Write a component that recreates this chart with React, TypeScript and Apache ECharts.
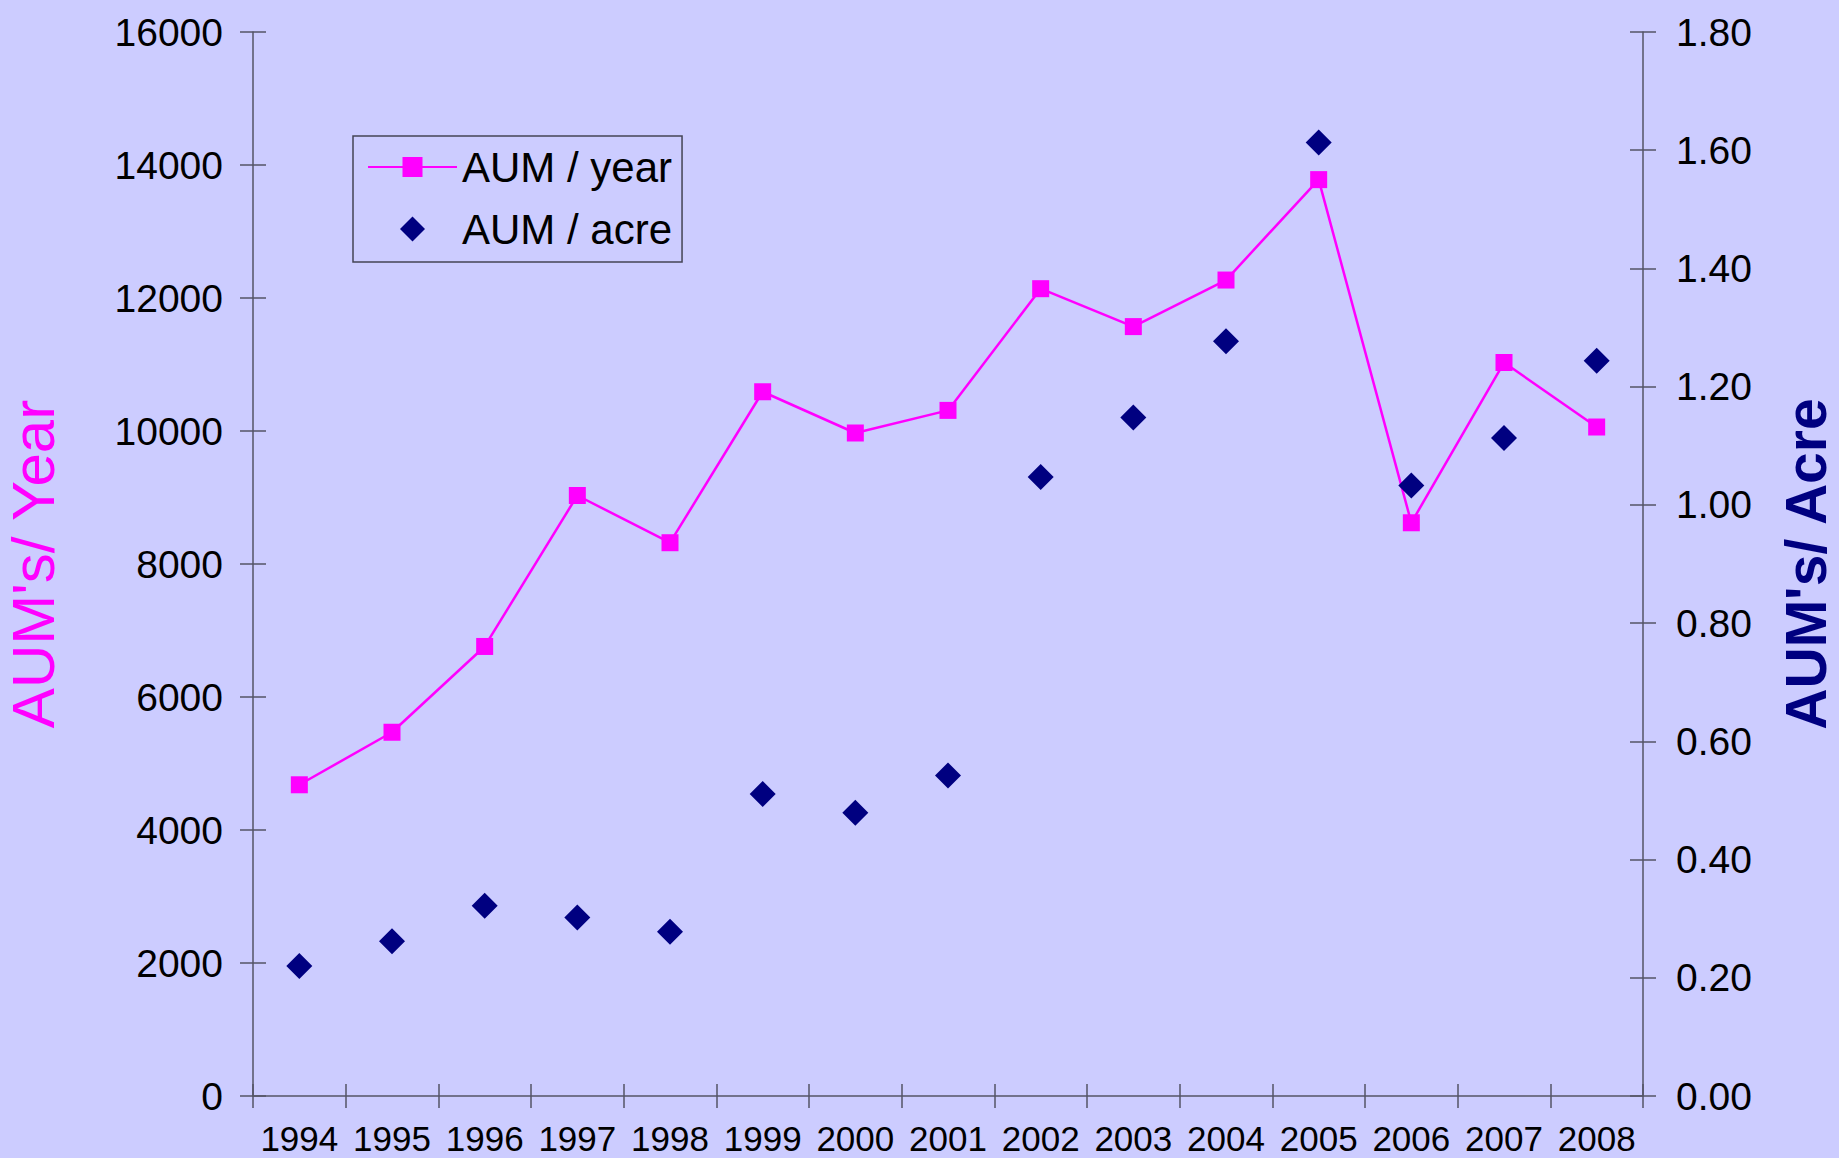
import React, { useEffect, useRef } from "react";
import * as echarts from "echarts";

const years = ["1994", "1995", "1996", "1997", "1998", "1999", "2000", "2001", "2002", "2003", "2004", "2005", "2006", "2007", "2008"];
const aumPerYear = [4680, 5470, 6760, 9030, 8320, 10590, 9970, 10310, 12140, 11570, 12270, 13780, 8620, 11030, 10060];
const aumPerAcre = [0.22, 0.262, 0.322, 0.302, 0.278, 0.511, 0.479, 0.542, 1.047, 1.148, 1.277, 1.613, 1.033, 1.113, 1.244];

const leftMax = 16000;
const leftInterval = 2000;
const rightMax = 1.8;
const rightInterval = 0.2;

const AXIS_COLOR = "#555566";
const FONT = "Liberation Sans, Arial, sans-serif";

export default function App() {
  const ref = useRef<HTMLDivElement>(null);
  useEffect(() => {
    if (!ref.current) return;
    const chart = echarts.init(ref.current, undefined, { renderer: "svg" });
    const tickLine = { color: AXIS_COLOR, width: 1.5 };
    chart.setOption({
      animation: false,
      backgroundColor: "#CCCCFF",
      textStyle: { fontFamily: FONT },
      grid: { left: 253, right: 196, top: 32, bottom: 62, containLabel: false, outerBoundsMode: "none" },
      legend: {
        orient: "vertical",
        left: 353,
        top: 136,
        padding: [8, 10, 10, 14],
        borderColor: "#444455",
        borderWidth: 1.5,
        backgroundColor: "transparent",
        itemWidth: 89,
        itemHeight: 25,
        itemGap: 16,
        itemTextGap: 12,
        symbolKeepAspect: true,
        textStyle: { fontSize: 42, color: "#000", fontFamily: FONT, lineHeight: 46 },
        data: [
          { name: "AUM / year" },
          { name: "AUM / acre", icon: "path://M0,-1 L1,0 L0,1 L-1,0 Z", itemStyle: { color: "#000080", opacity: 1 } },
        ],
      },
      xAxis: [
        {
          type: "category",
          position: "bottom",
          data: years,
          boundaryGap: true,
          axisLine: { show: true, lineStyle: { color: AXIS_COLOR, width: 1.5 } },
          axisTick: { show: true, inside: false, length: 12, lineStyle: tickLine },
          axisLabel: { fontSize: 35, color: "#000", margin: 25, fontFamily: FONT, interval: 0 },
          splitLine: { show: false },
        },
        {
          type: "category",
          position: "bottom",
          data: years,
          boundaryGap: true,
          axisLine: { show: false },
          axisTick: { show: true, inside: true, length: 12, lineStyle: tickLine },
          axisLabel: { show: false },
          splitLine: { show: false },
        },
      ],
      yAxis: [
        {
          type: "value",
          position: "left",
          min: 0,
          max: leftMax,
          interval: leftInterval,
          name: "AUM's/ Year",
          nameLocation: "middle",
          nameGap: 190,
          nameRotate: 90,
          nameTextStyle: { color: "#FF00FF", fontSize: 60, fontFamily: FONT },
          axisLine: { show: true, lineStyle: { color: AXIS_COLOR, width: 1.5 } },
          axisTick: { show: true, inside: false, length: 13, lineStyle: tickLine },
          axisLabel: { fontSize: 39, color: "#000", margin: 30, fontFamily: FONT, formatter: (v: number) => String(v) },
          splitLine: { show: false },
        },
        {
          type: "value",
          position: "right",
          min: 0,
          max: rightMax,
          interval: rightInterval,
          name: "AUM's/ Acre",
          nameLocation: "middle",
          nameGap: 134,
          nameRotate: 90,
          nameTextStyle: { color: "#000080", fontSize: 57, fontWeight: "bold", fontFamily: FONT },
          axisLine: { show: true, lineStyle: { color: AXIS_COLOR, width: 1.5 } },
          axisTick: { show: true, inside: false, length: 13, lineStyle: tickLine },
          axisLabel: {
            fontSize: 39,
            color: "#000",
            margin: 33,
            fontFamily: FONT,
            formatter: (v: number) => v.toFixed(2),
          },
          splitLine: { show: false },
        },
        {
          type: "value",
          position: "left",
          min: 0,
          max: leftMax,
          interval: leftInterval,
          axisLine: { show: false },
          axisTick: { show: true, inside: true, length: 13, lineStyle: tickLine },
          axisLabel: { show: false },
          splitLine: { show: false },
        },
        {
          type: "value",
          position: "right",
          min: 0,
          max: rightMax,
          interval: rightInterval,
          axisLine: { show: false },
          axisTick: { show: true, inside: true, length: 13, lineStyle: tickLine },
          axisLabel: { show: false },
          splitLine: { show: false },
        },
      ],
      series: [
        {
          name: "AUM / year",
          type: "line",
          xAxisIndex: 0,
          yAxisIndex: 0,
          data: aumPerYear,
          symbol: "rect",
          symbolSize: 17,
          showSymbol: true,
          lineStyle: { color: "#FF00FF", width: 2.5 },
          itemStyle: { color: "#FF00FF" },
          z: 3,
        },
        {
          name: "AUM / acre",
          type: "scatter",
          xAxisIndex: 0,
          yAxisIndex: 1,
          data: aumPerAcre,
          symbol: "diamond",
          symbolSize: 26,
          itemStyle: { color: "#000080", opacity: 1 },
          z: 4,
        },
      ],
    });
    return () => chart.dispose();
  }, []);
  return (
    <div
      ref={ref}
      style={{ position: "absolute", left: 0, top: 0, width: 1839, height: 1158 }}
    />
  );
}
